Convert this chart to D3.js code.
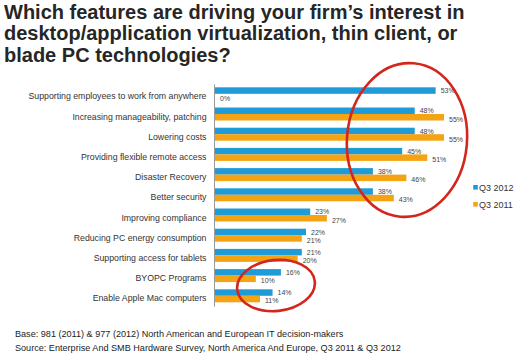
<!DOCTYPE html>
<html><head><meta charset="utf-8">
<script src="https://cdn.jsdelivr.net/npm/d3@7"></script>
<style>body{margin:0;background:#fff}svg{display:block}</style>
</head><body>
<script>
const categories = ["Supporting employees to work from anywhere","Increasing manageability, patching","Lowering costs","Providing flexible remote access","Disaster Recovery","Better security","Improving compliance","Reducing PC energy consumption","Supporting access for tablets","BYOPC Programs","Enable Apple Mac computers"];
const seriesNames = ["Q3 2012","Q3 2011"];
const q3_2012 = [53,48,48,45,38,38,23,22,21,16,14];
const q3_2011 = [0,55,55,51,46,43,27,21,20,10,11];
const titleLines = ["Which features are driving your firm\u2019s interest in","desktop/application virtualization, thin client, or","blade PC technologies?"];
const notes = ["Base: 981 (2011) & 977 (2012)  North American and European IT decision-makers","Source: Enterprise And SMB Hardware Survey, North America And Europe, Q3 2011 & Q3 2012"];
const colors = ["#1f9bd7","#f4a315"];

const W=520,H=359;
const svg=d3.select("body").append("svg").attr("width",W).attr("height",H);
const font="Liberation Sans, Arial, Helvetica, sans-serif";

svg.append("g").selectAll("text").data(titleLines).join("text")
  .attr("x",4).attr("y",(d,i)=>19+i*21.3)
  .attr("font-family",font).attr("font-weight","bold").attr("font-size",20)
  .attr("fill","#262626").text(d=>d);

const x=d3.scaleLinear().domain([0,55]).range([214,444]);
const y=d3.scaleBand().domain(categories).range([84,306.2]);
const ys=d3.scaleBand().domain(seriesNames).range([3.3,16.3]);
const seriesVals=[q3_2012,q3_2011];

const g=svg.append("g");
categories.forEach((c,i)=>{
  seriesNames.forEach((s,j)=>{
    const v=seriesVals[j][i];
    const yy=y(c)+ys(s);
    g.append("rect").attr("x",x(0)).attr("y",yy).attr("width",x(v)-x(0)).attr("height",ys.bandwidth())
      .attr("fill",colors[j]);
    g.append("text").attr("x",x(v)+(v===0?6:5)).attr("y",yy+ys.bandwidth()/2+(j===0?2.6:4.4))
      .attr("font-family",font).attr("font-size",7).attr("fill","#444").text(v+"%");
  });
});

// y axis
const yAxis=svg.append("g").attr("transform","translate(214,0)")
  .call(d3.axisLeft(y).tickSize(0).tickPadding(7.5));
yAxis.select(".domain").attr("stroke","#9a9a9a").attr("stroke-width",1);
yAxis.selectAll("text").attr("font-family",font).attr("font-size",8.75).attr("fill","#333")
  .attr("dy","0.6em");

// legend
const leg=svg.append("g");
seriesNames.forEach((s,j)=>{
  leg.append("rect").attr("x",473.2).attr("y",185+j*17).attr("width",4.6).attr("height",4.6).attr("fill",colors[j]);
  leg.append("text").attr("x",479).attr("y",190.7+j*17).attr("font-family",font).attr("font-size",9).attr("fill","#333").text(s);
});

// annotation ellipses
svg.append("ellipse").attr("cx",407).attr("cy",140).attr("rx",60).attr("ry",77)
  .attr("transform","rotate(5,407,140)")
  .attr("fill","none").attr("stroke","#d3271e").attr("stroke-width",2.6);
svg.append("ellipse").attr("cx",276).attr("cy",285.5).attr("rx",39).attr("ry",25.5)
  .attr("transform","rotate(-6,276,285.5)")
  .attr("fill","none").attr("stroke","#d3271e").attr("stroke-width",2.6);

svg.append("g").selectAll("text").data(notes).join("text")
  .attr("x",15).attr("y",(d,i)=>337+i*14).attr("font-family",font).attr("font-size",9.1).attr("fill","#222").text(d=>d);
</script>
</body></html>
